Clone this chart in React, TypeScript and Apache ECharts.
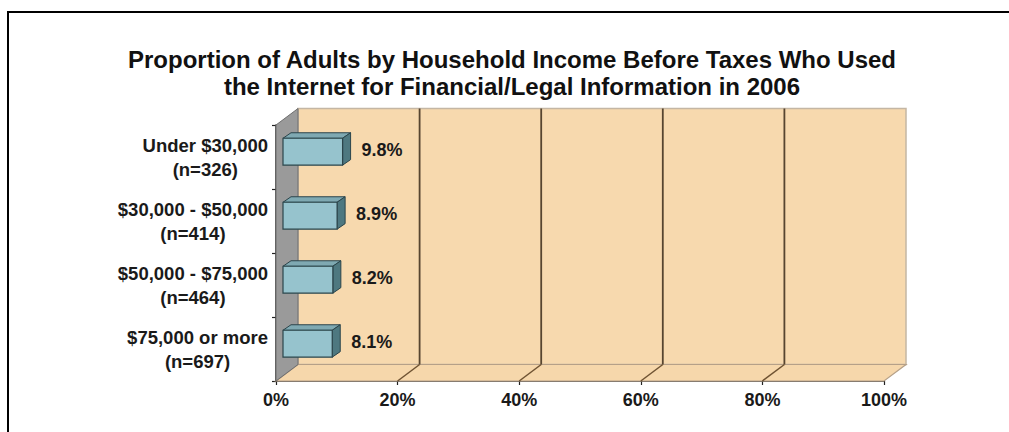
import React, { useEffect, useRef } from "react";
import * as echarts from "echarts";

const titleLines = [
  "Proportion of Adults by Household Income Before Taxes Who Used",
  "the Internet for Financial/Legal Information in 2006",
];
const categories = [
  "Under $30,000\n(n=326)",
  "$30,000 - $50,000\n(n=414)",
  "$50,000 - $75,000\n(n=464)",
  "$75,000 or more\n(n=697)",
];
const values = [9.8, 8.9, 8.2, 8.1];
const xTicks = [0, 20, 40, 60, 80, 100];

const FONT = "'Liberation Sans', Arial, sans-serif";
const DX = 22;
const DY = -16.5;

export default function App() {
  const ref = useRef<HTMLDivElement>(null);
  useEffect(() => {
    document.body.style.margin = "0";
    const chart = echarts.init(ref.current!, null, { renderer: "svg" });
    const option: any = {
      animation: false,
      backgroundColor: "#ffffff",
      title: {
        text: titleLines.join("\n"),
        left: 512,
        top: 46,
        textAlign: "center",
        padding: 0,
        textStyle: {
          fontFamily: FONT,
          fontSize: 24,
          fontWeight: "bold",
          lineHeight: 27,
          color: "#111111",
        },
      },
      graphic: [
        { type: "rect", shape: { x: 7, y: 11, width: 1002, height: 2 }, style: { fill: "#000" }, silent: true },
        { type: "rect", shape: { x: 7, y: 11, width: 2, height: 421 }, style: { fill: "#000" }, silent: true },
      ],
      grid: { left: 276, right: 125, top: 125, bottom: 51 },
      xAxis: {
        type: "value",
        min: 0,
        max: 100,
        interval: 20,
        axisLine: { show: true, lineStyle: { color: "#222", width: 1.5 } },
        axisTick: { show: true, length: 4, lineStyle: { color: "#222", width: 1.2 } },
        splitLine: { show: false },
        axisLabel: {
          formatter: "{value}%",
          margin: 10,
          fontFamily: FONT,
          fontSize: 18,
          fontWeight: "bold",
          color: "#1a1a1a",
        },
      },
      yAxis: {
        type: "category",
        inverse: true,
        data: categories,
        axisLine: { show: true, lineStyle: { color: "#222", width: 1.5 } },
        axisTick: { show: true, length: 4, lineStyle: { color: "#222", width: 1.2 } },
        axisLabel: {
          margin: 8,
          formatter: (v: string) =>
            v
              .split("\n")
              .map((s) => "{c|" + s + "}")
              .join("\n"),
          rich: {
            c: {
              align: "center",
              fontFamily: FONT,
              fontSize: 18.5,
              fontWeight: "bold",
              lineHeight: 24,
              color: "#1a1a1a",
            },
          },
        },
      },
      series: [
        {
          type: "custom",
          silent: true,
          z: 1,
          data: [[0, 0]],
          encode: { x: 0, y: 1 },
          renderItem: (params: any, api: any) => {
            const cs = params.coordSys;
            const x0 = cs.x;
            const x1 = cs.x + cs.width;
            const y0 = cs.y;
            const y1 = cs.y + cs.height;
            const children: any[] = [];
            children.push({
              type: "polygon",
              shape: { points: [[x0 + DX, y0 + DY], [x1 + DX, y0 + DY], [x1 + DX, y1 + DY], [x0 + DX, y1 + DY]] },
              style: { fill: "#f7d9ae", stroke: "#c4b6a4", lineWidth: 1.5 },
            });
            children.push({
              type: "polygon",
              shape: { points: [[x0, y1], [x1, y1], [x1 + DX, y1 + DY], [x0 + DX, y1 + DY]] },
              style: { fill: "#f6d7ab", stroke: "#b5a088", lineWidth: 1.2 },
            });
            children.push({
              type: "polygon",
              shape: { points: [[x0, y0], [x0 + DX, y0 + DY], [x0 + DX, y1 + DY], [x0, y1]] },
              style: { fill: "#9a9a9a", stroke: "#6e6e6e", lineWidth: 1 },
            });
            xTicks.slice(1, -1).forEach((t) => {
              const px = api.coord([t, 0])[0];
              children.push({
                type: "line",
                shape: { x1: px + DX, y1: y0 + DY, x2: px + DX, y2: y1 + DY },
                style: { stroke: "#574530", lineWidth: 1.8 },
              });
              children.push({
                type: "line",
                shape: { x1: px, y1: y1, x2: px + DX, y2: y1 + DY },
                style: { stroke: "#6e5232", lineWidth: 1.5 },
              });
            });
            return { type: "group", children };
          },
        },
        {
          type: "custom",
          silent: true,
          z: 3,
          data: values.map((v, i) => [v, i]),
          encode: { x: 0, y: 1 },
          renderItem: (params: any, api: any) => {
            const v = api.value(0);
            const cat = api.value(1);
            const s = api.coord([0, cat]);
            const e = api.coord([v, cat]);
            const band = api.size([0, 1])[1];
            const h = band * 0.42;
            const ox = 7;
            const oy = -5.3;
            const bx = 8;
            const by = -5.5;
            const fx = s[0] + ox;
            const fy = s[1] + oy - h / 2;
            const w = e[0] - s[0];
            const stroke = "#2b454b";
            return {
              type: "group",
              children: [
                {
                  type: "polygon",
                  shape: { points: [[fx, fy], [fx + w, fy], [fx + w + bx, fy + by], [fx + bx, fy + by]] },
                  style: { fill: "#7fa9b2", stroke, lineWidth: 1 },
                },
                {
                  type: "polygon",
                  shape: { points: [[fx + w, fy], [fx + w + bx, fy + by], [fx + w + bx, fy + h + by], [fx + w, fy + h]] },
                  style: { fill: "#4e7880", stroke, lineWidth: 1 },
                },
                {
                  type: "rect",
                  shape: { x: fx, y: fy, width: w, height: h },
                  style: { fill: "#96c3cd", stroke, lineWidth: 1.2 },
                },
                {
                  type: "text",
                  style: {
                    x: fx + w + 19,
                    y: fy + h / 2 - 2,
                    text: v.toFixed(1) + "%",
                    fill: "#1a1a1a",
                    font: "bold 18px " + FONT,
                    align: "left",
                    verticalAlign: "middle",
                  },
                },
              ],
            };
          },
        },
      ],
    };
    chart.setOption(option);
    return () => chart.dispose();
  }, []);
  return <div ref={ref} style={{ width: 1009, height: 432 }} />;
}
